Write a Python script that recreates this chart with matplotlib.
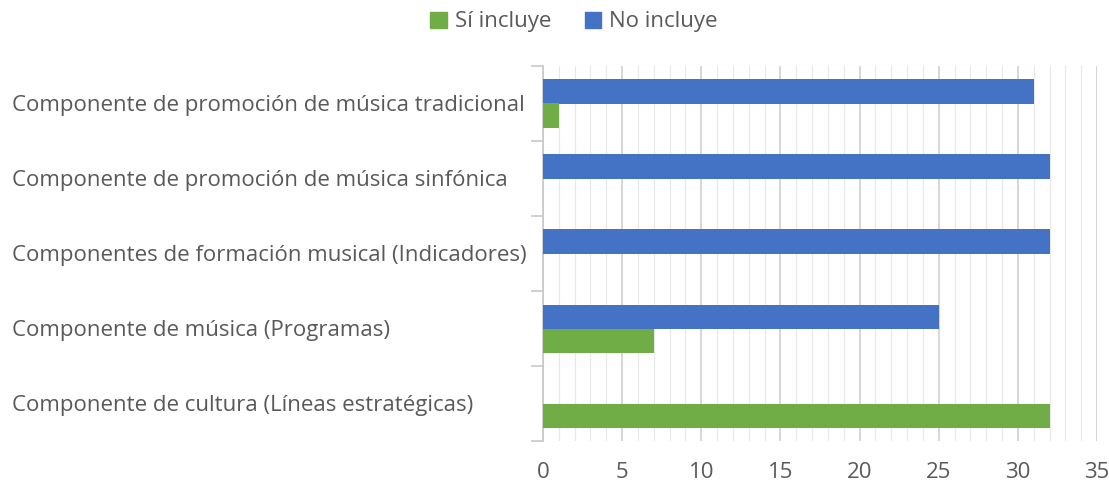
import matplotlib
matplotlib.use("Agg")
import matplotlib.pyplot as plt
import matplotlib.transforms as mtransforms
from matplotlib.patches import Patch
import numpy as np

categories = [
    "Componente de promoción de música tradicional",
    "Componente de promoción de música sinfónica",
    "Componentes de formación musical (Indicadores)",
    "Componente de música (Programas)",
    "Componente de cultura (Líneas estratégicas)",
]
si_incluye = [1, 0, 0, 7, 32]
no_incluye = [31, 32, 32, 25, 0]
x_ticks = [0, 5, 10, 15, 20, 25, 30, 35]

GREEN = "#70AD47"
BLUE = "#4472C4"
TXT = "#595959"
FONT = "Open Sans"
FS = 16

fig = plt.figure(figsize=(11.09, 4.84), dpi=100)
ax = fig.add_axes([543 / 1109, 1 - 441 / 484, (1097 - 543) / 1109, (441 - 66) / 484])

n = len(categories)
y = np.arange(n)[::-1]  # top category first
h = 0.32
ax.barh(y + h / 2, no_incluye, height=h, color=BLUE, zorder=3)
ax.barh(y - h / 2, si_incluye, height=h, color=GREEN, zorder=3)

ax.set_xlim(0, 35)
ax.set_ylim(-0.5, n - 0.5)
ax.set_xticks(x_ticks)
ax.set_xticks(np.arange(0, 36, 1), minor=True)
ax.xaxis.grid(True, which="major", color="#d0d0d0", lw=1.2, zorder=0)
ax.xaxis.grid(True, which="minor", color="#e8e8e8", lw=0.9, zorder=0)
ax.tick_params(axis="x", which="both", length=0, labelsize=FS, labelcolor=TXT, pad=15)
for lbl in ax.get_xticklabels():
    lbl.set_fontfamily(FONT)

# category boundary ticks on the left
ax.set_yticks(np.arange(-0.5, n, 1))
ax.set_yticklabels([])
ax.tick_params(axis="y", length=9, color="#c8c8c8", width=1.2)

for s in ["top", "right", "bottom"]:
    ax.spines[s].set_visible(False)
ax.spines["left"].set_color("#c8c8c8")
ax.spines["left"].set_linewidth(1.2)

trans = mtransforms.blended_transform_factory(fig.transFigure, ax.transData)
for yi, cat in zip(y, categories):
    fig.text(12 / 1109, yi - 0.03, cat, transform=trans, ha="left", va="center",
             fontsize=FS, color=TXT, family=FONT)

handles = [Patch(color=GREEN, label="Sí incluye"), Patch(color=BLUE, label="No incluye")]
fig.legend(handles=handles, loc="center", bbox_to_anchor=(574 / 1109, 1 - 22 / 484),
           ncol=2, frameon=False, handlelength=0.75, handleheight=0.75,
           handletextpad=0.35, columnspacing=1.5,
           prop={"family": FONT, "size": FS}, labelcolor=TXT)

fig.savefig("out.png", dpi=100)
